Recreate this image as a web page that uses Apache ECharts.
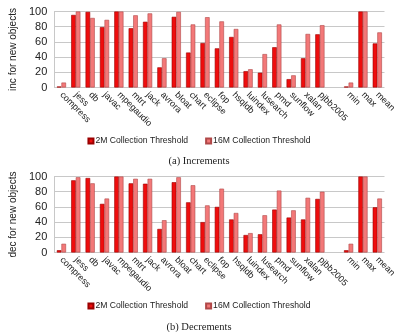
<!DOCTYPE html>
<html>
<head>
<meta charset="utf-8">
<script src="https://cdn.jsdelivr.net/npm/echarts@6/dist/echarts.min.js"></script>
<style>html,body{margin:0;padding:0;background:#fff}#c{width:398px;height:332px}</style>
</head>
<body>
<div id="c"></div>
<script>
var categories = ['compress','jess','db','javac','mpegaudio','mtrt','jack','avrora','bloat','chart','eclipse','fop','hsqldb','luindex','lusearch','pmd','sunflow','xalan','pjbb2005','','min','max','mean'];
var yTicks = [0, 20, 40, 60, 80, 100];
var inc2M  = [1.3, 95.5, 99.5, 79.5, 100, 78, 86.5, 26.5, 93, 46, 58.5, 51.5, 66.5, 21.5, 19.5, 53, 11, 38.5, 70, null, 1.3, 100, 58];
var inc16M = [6.5, 100, 91.5, 89, 100, 95, 97.5, 38.5, 99.5, 83, 92.5, 87, 77, 24, 44, 83, 16, 70.5, 82, null, 6.5, 100, 72.5];
var dec2M  = [3, 95, 98, 64, 100, 91, 90.5, 31, 92.5, 66, 40, 60, 43.5, 23, 24, 56.5, 46, 43.5, 70.5, null, 3, 100, 59.5];
var dec16M = [11.5, 99, 91, 71, 100, 97, 97, 42.5, 99, 88.5, 62, 84, 52, 25.5, 49, 81.5, 55.5, 72, 80, null, 11.5, 100, 71];
var seriesNames = ['2M Collection Threshold', '16M Collection Threshold'];
var captions = ['(a) Increments', '(b) Decrements'];
var yNames = ['inc for new objects', 'dec for new objects'];

var c2M = '#ee0d0d', b2M = '#9a0000';
var c16M = '#f37878', b16M = '#b04848';
var txt = '#222';
var sans = 'Liberation Sans, Arial, sans-serif';

var gridTops = [11.5, 176.5];
var grids = [], xAxes = [], yAxes = [], series = [], legends = [], titles = [];
var dataSets = [[inc2M, inc16M], [dec2M, dec16M]];
for (var i = 0; i < 2; i++) {
  grids.push({left: 35, right: 8, top: gridTops[i], height: 76});
  xAxes.push({
    type: 'category', gridIndex: i, data: categories,
    axisLine: {show: false}, axisTick: {show: false},
    axisLabel: {interval: 0, rotate: -45, fontSize: 9, color: txt, margin: 6, fontFamily: sans}
  });
  yAxes.push({
    type: 'value', gridIndex: i, min: 0, max: 100, interval: 20,
    name: yNames[i], nameLocation: 'middle', nameGap: 26,
    nameTextStyle: {fontSize: 10, color: txt, fontFamily: sans},
    axisLine: {show: true, lineStyle: {color: '#c8c8c8'}}, axisTick: {show: false},
    axisLabel: {fontSize: 11, color: txt, margin: 7, fontFamily: sans,
      formatter: function (v) { return yTicks.indexOf(v) >= 0 ? String(v) : ''; }},
    splitLine: {lineStyle: {color: '#c8c8c8'}}
  });
  series.push({
    name: seriesNames[0], type: 'bar', xAxisIndex: i, yAxisIndex: i, data: dataSets[i][0],
    barWidth: 4.6, barGap: '0%',
    itemStyle: {color: c2M, borderColor: b2M, borderWidth: 0.6}
  });
  series.push({
    name: seriesNames[1], type: 'bar', xAxisIndex: i, yAxisIndex: i, data: dataSets[i][1],
    barWidth: 4.6, barGap: '0%',
    itemStyle: {color: c16M, borderColor: b16M, borderWidth: 0.6}
  });
  legends.push({
    data: seriesNames, top: [136.5, 301.5][i], left: 'center', padding: 0,
    itemWidth: 5, itemHeight: 5, itemGap: 17, icon: 'rect', selectedMode: false,
    textStyle: {fontSize: 8.6, color: txt, fontFamily: sans, padding: [0, 0, 0, -3]}
  });
  titles.push({
    text: captions[i], left: 'center', top: [156, 321.5][i], padding: 0,
    textStyle: {fontSize: 10.5, fontWeight: 'normal', color: txt, fontFamily: 'Liberation Serif, Times New Roman, serif'}
  });
}

var chart = echarts.init(document.getElementById('c'), null, {renderer: 'canvas'});
chart.setOption({
  animation: false,
  title: titles,
  legend: legends,
  grid: grids,
  xAxis: xAxes,
  yAxis: yAxes,
  series: series
});
</script>
</body>
</html>
